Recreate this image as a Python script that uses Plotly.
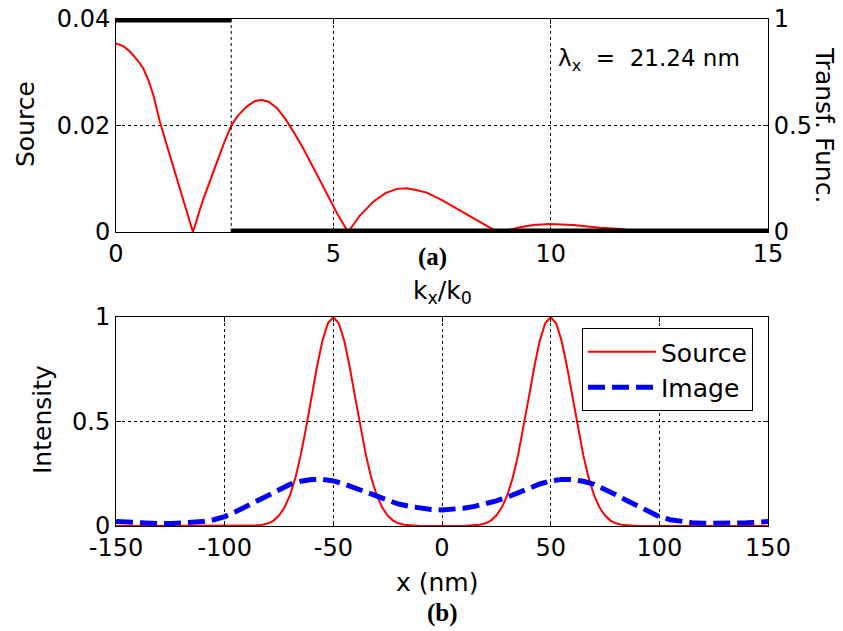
import plotly.graph_objects as go

# ---------------- data: panel (a) ----------------
kx = [0, 0.17, 0.32, 0.5, 0.63, 0.75, 0.86, 1.01, 1.15, 1.28, 1.4, 1.51, 1.64, 1.77,
      2.0, 2.25, 2.5, 2.66, 2.8, 3.0, 3.2, 3.35, 3.5, 3.7, 3.9, 4.1, 4.3, 4.5, 4.7, 4.9, 5.1, 5.34,
      5.6, 5.92, 6.2, 6.46, 6.69, 6.9, 7.15, 7.5, 7.84, 8.1, 8.37, 8.6, 8.8,
      9.06, 9.3, 9.6, 9.98, 10.52, 11.13, 11.71]
source_spec = [0.0354, 0.0349, 0.0339, 0.0322, 0.0307, 0.0284, 0.0257, 0.0207, 0.0168, 0.0132, 0.0099, 0.0069, 0.0035, 0.0,
               0.0060, 0.0115, 0.0170, 0.0201, 0.0218, 0.0235, 0.0246, 0.0248, 0.0245, 0.0233, 0.0212, 0.0186, 0.0158, 0.0127, 0.0095, 0.0063, 0.0033, 0.0,
               0.0030, 0.0057, 0.0073, 0.0081, 0.0082, 0.0079, 0.0074, 0.0060, 0.0044, 0.0031, 0.0019, 0.0008, 0.0,
               0.0005, 0.0009, 0.0013, 0.0015, 0.0013, 0.0008, 0.0005]
kc = 2.65
tf_k = [0, kc, None, kc, 15]
tf_val = [1, 1, None, 0, 0]
cut_k = [kc, kc]
cut_val = [0, 1]

# ---------------- data: panel (b) ----------------
src_x = [-150, -90, -87.5, -85, -82.5, -80, -77.5, -75, -72.5, -70, -67.5, -65, -62.5, -60, -57.5, -55, -52.5,
         -50, -47.5, -45, -42.5, -40, -37.5, -35, -32.5, -30, -27.5, -25, -22.5, -20, -17.5, -15, -12.5, -10,
         10, 12.5, 15, 17.5, 20, 22.5, 25, 27.5, 30, 32.5, 35, 37.5, 40, 42.5, 45, 47.5,
         50, 52.5, 55, 57.5, 60, 62.5, 65, 67.5, 70, 72.5, 75, 77.5, 80, 82.5, 85, 87.5, 90, 150]
src_y = [0, 0, 0.001, 0.003, 0.006, 0.013, 0.026, 0.050, 0.088, 0.146, 0.229, 0.339, 0.472, 0.618, 0.763, 0.887, 0.970,
         1.0, 0.970, 0.887, 0.763, 0.618, 0.472, 0.339, 0.229, 0.146, 0.088, 0.050, 0.026, 0.013, 0.006, 0.003, 0.001, 0,
         0, 0.001, 0.003, 0.006, 0.013, 0.026, 0.050, 0.088, 0.146, 0.229, 0.339, 0.472, 0.618, 0.763, 0.887, 0.970,
         1.0, 0.970, 0.887, 0.763, 0.618, 0.472, 0.339, 0.229, 0.146, 0.088, 0.050, 0.026, 0.013, 0.006, 0.003, 0.001, 0, 0]
img_x = [-150, -145, -140, -135, -130, -125, -120, -115, -110, -105, -100, -95, -90, -85, -80, -75, -70, -65, -60, -55,
         -50, -45, -40, -35, -30, -25, -20, -15, -10, -5, 0, 5, 10, 15, 20, 25, 30, 35, 40, 45,
         50, 55, 60, 65, 70, 75, 80, 85, 90, 95, 100, 105, 110, 115, 120, 125, 130, 135, 140, 145, 150]
img_y = [0.021, 0.018, 0.015, 0.013, 0.012, 0.012, 0.013, 0.016, 0.021, 0.030, 0.045, 0.068, 0.095, 0.122, 0.150, 0.177, 0.199, 0.214, 0.222, 0.223,
         0.216, 0.201, 0.182, 0.160, 0.138, 0.120, 0.105, 0.094, 0.085, 0.079, 0.077, 0.079, 0.085, 0.094, 0.105, 0.120, 0.138, 0.160, 0.182, 0.201,
         0.216, 0.223, 0.222, 0.214, 0.199, 0.177, 0.150, 0.122, 0.095, 0.068, 0.045, 0.030, 0.021, 0.016, 0.013, 0.012, 0.012, 0.013, 0.015, 0.018, 0.021]

xt_a = [0, 5, 10, 15]
yt_a = [0, 0.02, 0.04]
yt_a_txt = ["0", "0.02", "0.04"]
yt_tf = [0, 0.5, 1]
yt_tf_txt = ["0", "0.5", "1"]
xt_b = [-150, -100, -50, 0, 50, 100, 150]
xt_b_txt = ["-150", "-100", "-50", "0", "50", "100", "150"]
yt_b = [0, 0.5, 1]
yt_b_txt = ["0", "0.5", "1"]

W, H = 843, 631
FONT = "DejaVu Sans"
FS = 24

def px(x):
    return x / W

def py(y):
    return (H - y) / H

fig = go.Figure()
fig.add_trace(go.Scatter(x=kx, y=source_spec, mode="lines", line=dict(color="red", width=2),
                         xaxis="x", yaxis="y", showlegend=False))
fig.add_trace(go.Scatter(x=cut_k, y=cut_val, mode="lines", line=dict(color="black", width=1, dash="3px,3px"),
                         xaxis="x", yaxis="y2", showlegend=False))
fig.add_trace(go.Scatter(x=tf_k, y=tf_val, mode="lines", line=dict(color="black", width=7),
                         xaxis="x", yaxis="y2", showlegend=False, connectgaps=False))
fig.add_trace(go.Scatter(x=src_x, y=src_y, mode="lines", name="Source", line=dict(color="red", width=2),
                         xaxis="x2", yaxis="y3"))
fig.add_trace(go.Scatter(x=img_x, y=img_y, mode="lines", name="Image",
                         line=dict(color="blue", width=5, dash="17px,7px"),
                         xaxis="x2", yaxis="y3"))

xd = [px(116), px(768)]
tickfont = dict(family=FONT, size=FS, color="black")
common = dict(showline=True, linecolor="black", linewidth=1, ticks="inside", ticklen=5, tickcolor="black",
              tickfont=tickfont, zeroline=False, gridcolor="black", griddash="3px,3px", gridwidth=1,
              automargin=False)

fig.update_layout(
    width=W, height=H, margin=dict(l=0, r=0, t=0, b=0, autoexpand=False),
    paper_bgcolor="white", plot_bgcolor="white",
    xaxis=dict(domain=xd, range=[0, 15], tickvals=xt_a, anchor="y", mirror="ticks", showgrid=True, **common),
    yaxis=dict(domain=[py(232), py(19)], range=[0, 0.04], tickvals=yt_a, ticktext=yt_a_txt, anchor="x",
               showgrid=True, **common),
    yaxis2=dict(overlaying="y", side="right", range=[0, 1], tickvals=yt_tf, ticktext=yt_tf_txt, anchor="x",
                showgrid=False, **common),
    xaxis2=dict(domain=xd, range=[-150, 150], tickvals=xt_b, ticktext=xt_b_txt, anchor="y3", mirror="ticks",
                showgrid=True, **common),
    yaxis3=dict(domain=[py(526), py(317)], range=[0, 1], tickvals=yt_b, ticktext=yt_b_txt, anchor="x2",
                mirror="ticks", showgrid=True, **common),
    legend=dict(x=px(582), y=py(328), xanchor="left", yanchor="top", bordercolor="black", borderwidth=1,
                bgcolor="white", font=dict(family=FONT, size=25, color="black"), itemwidth=68,
                tracegroupgap=0),
)

ann = [
    dict(text="Source", x=px(26), y=py(124), textangle=-90, size=25, family=FONT),
    dict(text="Transf. Func.", x=px(825), y=py(125), textangle=90, size=25, family=FONT),
    dict(text="k<sub>x</sub>/k<sub>0</sub>", x=px(442), y=py(292), textangle=0, size=25, family=FONT),
    dict(text="<b>(a)</b>", x=px(432), y=py(257), textangle=0, size=25, family="Liberation Serif"),
    dict(text="Intensity", x=px(42), y=py(420), textangle=-90, size=25, family=FONT),
    dict(text="x (nm)", x=px(437), y=py(582), textangle=0, size=25, family=FONT),
    dict(text="<b>(b)</b>", x=px(442), y=py(613), textangle=0, size=25, family="Liberation Serif"),
]
for a in ann:
    fig.add_annotation(text=a["text"], x=a["x"], y=a["y"], xref="paper", yref="paper", showarrow=False,
                       textangle=a["textangle"], xanchor="center", yanchor="middle",
                       font=dict(family=a["family"], size=a["size"], color="black"))

fig.add_annotation(text="λ<sub>x</sub>  =  21.24 nm", x=px(556), y=py(60), xref="paper", yref="paper",
                   showarrow=False, xanchor="left", yanchor="middle",
                   font=dict(family=FONT, size=23, color="black"))

fig.write_html("out.html")
